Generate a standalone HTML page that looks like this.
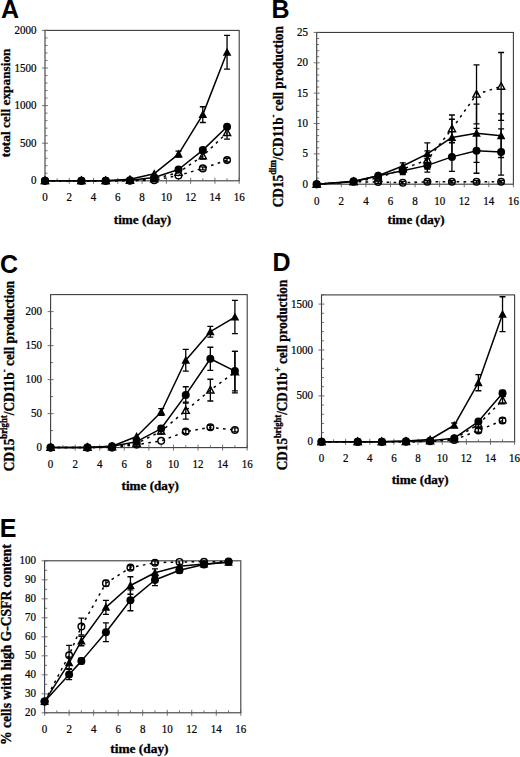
<!DOCTYPE html>
<html><head><meta charset="utf-8"><title>Figure</title>
<style>
html,body{margin:0;padding:0;background:#fff;}
body{width:520px;height:757px;overflow:hidden;font-family:"Liberation Serif",serif;}
svg{display:block;}
</style></head>
<body>
<svg width="520" height="757" viewBox="0 0 520 757">
<rect width="520" height="757" fill="#fff"/>
<rect x="45.00" y="30.40" width="194.20" height="150.40" fill="none" stroke="#3c3c3c" stroke-width="1.1"/>
<path d="M42.00,180.80H48.00M45.00,173.28H47.50M45.00,165.76H47.50M45.00,158.24H47.50M45.00,150.72H47.50M42.00,143.20H48.00M45.00,135.68H47.50M45.00,128.16H47.50M45.00,120.64H47.50M45.00,113.12H47.50M42.00,105.60H48.00M45.00,98.08H47.50M45.00,90.56H47.50M45.00,83.04H47.50M45.00,75.52H47.50M42.00,68.00H48.00M45.00,60.48H47.50M45.00,52.96H47.50M45.00,45.44H47.50M45.00,37.92H47.50M42.00,30.40H48.00M45.00,177.80V183.80M57.14,178.30V180.80M69.28,177.80V183.80M81.41,178.30V180.80M93.55,177.80V183.80M105.69,178.30V180.80M117.82,177.80V183.80M129.96,178.30V180.80M142.10,177.80V183.80M154.24,178.30V180.80M166.38,177.80V183.80M178.51,178.30V180.80M190.65,177.80V183.80M202.79,178.30V180.80M214.92,177.80V183.80M227.06,178.30V180.80M239.20,177.80V183.80" stroke="#5a5a5a" stroke-width="0.85" fill="none"/>
<text transform="translate(36.40,184.40) scale(1,1.12)" text-anchor="end" font-family="'Liberation Serif', serif" font-size="11" stroke="#000" stroke-width="0.2">0</text>
<text transform="translate(36.40,146.80) scale(1,1.12)" text-anchor="end" font-family="'Liberation Serif', serif" font-size="11" stroke="#000" stroke-width="0.2">500</text>
<text transform="translate(36.40,109.20) scale(1,1.12)" text-anchor="end" font-family="'Liberation Serif', serif" font-size="11" stroke="#000" stroke-width="0.2">1000</text>
<text transform="translate(36.40,71.60) scale(1,1.12)" text-anchor="end" font-family="'Liberation Serif', serif" font-size="11" stroke="#000" stroke-width="0.2">1500</text>
<text transform="translate(36.40,34.00) scale(1,1.12)" text-anchor="end" font-family="'Liberation Serif', serif" font-size="11" stroke="#000" stroke-width="0.2">2000</text>
<text transform="translate(45.00,201.10) scale(1,1.12)" text-anchor="middle" font-family="'Liberation Serif', serif" font-size="11" stroke="#000" stroke-width="0.2">0</text>
<text transform="translate(69.28,201.10) scale(1,1.12)" text-anchor="middle" font-family="'Liberation Serif', serif" font-size="11" stroke="#000" stroke-width="0.2">2</text>
<text transform="translate(93.55,201.10) scale(1,1.12)" text-anchor="middle" font-family="'Liberation Serif', serif" font-size="11" stroke="#000" stroke-width="0.2">4</text>
<text transform="translate(117.82,201.10) scale(1,1.12)" text-anchor="middle" font-family="'Liberation Serif', serif" font-size="11" stroke="#000" stroke-width="0.2">6</text>
<text transform="translate(142.10,201.10) scale(1,1.12)" text-anchor="middle" font-family="'Liberation Serif', serif" font-size="11" stroke="#000" stroke-width="0.2">8</text>
<text transform="translate(166.38,201.10) scale(1,1.12)" text-anchor="middle" font-family="'Liberation Serif', serif" font-size="11" stroke="#000" stroke-width="0.2">10</text>
<text transform="translate(190.65,201.10) scale(1,1.12)" text-anchor="middle" font-family="'Liberation Serif', serif" font-size="11" stroke="#000" stroke-width="0.2">12</text>
<text transform="translate(214.92,201.10) scale(1,1.12)" text-anchor="middle" font-family="'Liberation Serif', serif" font-size="11" stroke="#000" stroke-width="0.2">14</text>
<text transform="translate(239.20,201.10) scale(1,1.12)" text-anchor="middle" font-family="'Liberation Serif', serif" font-size="11" stroke="#000" stroke-width="0.2">16</text>
<text x="0.9" y="18.3" font-family="'Liberation Sans', sans-serif" font-weight="bold" font-size="25">A</text>
<text x="142.50" y="224.00" text-anchor="middle" font-family="'Liberation Serif', serif" font-weight="bold" font-size="13.2" stroke="#000" stroke-width="0.3" textLength="57.4" lengthAdjust="spacingAndGlyphs">time (day)</text>
<text transform="translate(9.50,157.30) rotate(-90) scale(1,1.0)" x="0" y="0" font-family="'Liberation Serif', serif" font-weight="bold" font-size="13.2" stroke="#000" stroke-width="0.3" textLength="108.8" lengthAdjust="spacingAndGlyphs">total cell expansion</text>
<path d="M45.00,180.80L81.41,180.80L105.69,180.80L129.96,180.80L154.24,180.20L178.51,175.54L202.79,168.39L227.06,160.12" fill="none" stroke="#000" stroke-width="1.5" stroke-dasharray="2.6,4.4"/>
<path d="M45.00,180.80L81.41,180.80L105.69,180.80L129.96,180.42L154.24,178.92L178.51,172.53L202.79,155.98L227.06,132.67" fill="none" stroke="#000" stroke-width="1.5" stroke-dasharray="2.6,4.4"/>
<path d="M45.00,180.80L81.41,180.80L105.69,180.80L129.96,180.20L154.24,177.42L178.51,169.52L202.79,150.12L227.06,126.81" fill="none" stroke="#000" stroke-width="1.5" stroke-linejoin="round"/>
<path d="M45.00,180.80L81.41,180.80L105.69,180.80L129.96,179.30L154.24,173.66L178.51,154.10L202.79,114.62L227.06,52.21" fill="none" stroke="#000" stroke-width="1.5" stroke-linejoin="round"/>
<path d="M202.79,166.89V169.90M199.79,166.89H205.79M199.79,169.90H205.79M227.06,158.24V162.00M224.06,158.24H230.06M224.06,162.00H230.06" fill="none" stroke="#000" stroke-width="1.3"/>
<path d="M202.79,152.98V158.99M199.79,152.98H205.79M199.79,158.99H205.79M227.06,126.28V139.06M224.06,126.28H230.06M224.06,139.06H230.06" fill="none" stroke="#000" stroke-width="1.3"/>
<path d="M202.79,147.86V152.37M199.79,147.86H205.79M199.79,152.37H205.79M227.06,124.55V129.06M224.06,124.55H230.06M224.06,129.06H230.06" fill="none" stroke="#000" stroke-width="1.3"/>
<path d="M178.51,151.10V157.11M175.51,151.10H181.51M175.51,157.11H181.51M202.79,106.73V122.52M199.79,106.73H205.79M199.79,122.52H205.79M227.06,35.29V69.13M224.06,35.29H230.06M224.06,69.13H230.06" fill="none" stroke="#000" stroke-width="1.3"/>
<circle cx="45.00" cy="180.80" r="3.3" fill="none" stroke="#000" stroke-width="1.45"/>
<circle cx="81.41" cy="180.80" r="3.3" fill="none" stroke="#000" stroke-width="1.45"/>
<circle cx="105.69" cy="180.80" r="3.3" fill="none" stroke="#000" stroke-width="1.45"/>
<circle cx="129.96" cy="180.80" r="3.3" fill="none" stroke="#000" stroke-width="1.45"/>
<circle cx="154.24" cy="180.20" r="3.3" fill="none" stroke="#000" stroke-width="1.45"/>
<circle cx="178.51" cy="175.54" r="3.3" fill="none" stroke="#000" stroke-width="1.45"/>
<circle cx="202.79" cy="168.39" r="3.3" fill="none" stroke="#000" stroke-width="1.45"/>
<circle cx="227.06" cy="160.12" r="3.3" fill="none" stroke="#000" stroke-width="1.45"/>
<path d="M45.00,177.00L48.60,183.60L41.40,183.60Z" fill="none" stroke="#000" stroke-width="1.4" stroke-linejoin="miter"/>
<path d="M81.41,177.00L85.01,183.60L77.81,183.60Z" fill="none" stroke="#000" stroke-width="1.4" stroke-linejoin="miter"/>
<path d="M105.69,177.00L109.29,183.60L102.09,183.60Z" fill="none" stroke="#000" stroke-width="1.4" stroke-linejoin="miter"/>
<path d="M129.96,176.62L133.56,183.22L126.36,183.22Z" fill="none" stroke="#000" stroke-width="1.4" stroke-linejoin="miter"/>
<path d="M154.24,175.12L157.84,181.72L150.64,181.72Z" fill="none" stroke="#000" stroke-width="1.4" stroke-linejoin="miter"/>
<path d="M178.51,168.73L182.11,175.33L174.91,175.33Z" fill="none" stroke="#000" stroke-width="1.4" stroke-linejoin="miter"/>
<path d="M202.79,152.18L206.39,158.78L199.19,158.78Z" fill="none" stroke="#000" stroke-width="1.4" stroke-linejoin="miter"/>
<path d="M227.06,128.87L230.66,135.47L223.46,135.47Z" fill="none" stroke="#000" stroke-width="1.4" stroke-linejoin="miter"/>
<circle cx="45.00" cy="180.80" r="4.0" fill="#000"/>
<circle cx="81.41" cy="180.80" r="4.0" fill="#000"/>
<circle cx="105.69" cy="180.80" r="4.0" fill="#000"/>
<circle cx="129.96" cy="180.20" r="4.0" fill="#000"/>
<circle cx="154.24" cy="177.42" r="4.0" fill="#000"/>
<circle cx="178.51" cy="169.52" r="4.0" fill="#000"/>
<circle cx="202.79" cy="150.12" r="4.0" fill="#000"/>
<circle cx="227.06" cy="126.81" r="4.0" fill="#000"/>
<path d="M45.00,176.30L49.30,184.30L40.70,184.30Z" fill="#000"/>
<path d="M81.41,176.30L85.71,184.30L77.11,184.30Z" fill="#000"/>
<path d="M105.69,176.30L109.99,184.30L101.39,184.30Z" fill="#000"/>
<path d="M129.96,174.80L134.26,182.80L125.66,182.80Z" fill="#000"/>
<path d="M154.24,169.16L158.54,177.16L149.94,177.16Z" fill="#000"/>
<path d="M178.51,149.60L182.81,157.60L174.21,157.60Z" fill="#000"/>
<path d="M202.79,110.12L207.09,118.12L198.49,118.12Z" fill="#000"/>
<path d="M227.06,47.71L231.36,55.71L222.76,55.71Z" fill="#000"/>
<rect x="316.70" y="32.45" width="196.70" height="151.75" fill="none" stroke="#3c3c3c" stroke-width="1.1"/>
<path d="M313.70,184.20H319.70M316.70,178.13H319.20M316.70,172.06H319.20M316.70,165.99H319.20M316.70,159.92H319.20M313.70,153.85H319.70M316.70,147.78H319.20M316.70,141.71H319.20M316.70,135.64H319.20M316.70,129.57H319.20M313.70,123.50H319.70M316.70,117.43H319.20M316.70,111.36H319.20M316.70,105.29H319.20M316.70,99.22H319.20M313.70,93.15H319.70M316.70,87.08H319.20M316.70,81.01H319.20M316.70,74.94H319.20M316.70,68.87H319.20M313.70,62.80H319.70M316.70,56.73H319.20M316.70,50.66H319.20M316.70,44.59H319.20M316.70,38.52H319.20M313.70,32.45H319.70M316.70,181.20V187.20M328.99,181.70V184.20M341.29,181.20V187.20M353.58,181.70V184.20M365.88,181.20V187.20M378.17,181.70V184.20M390.46,181.20V187.20M402.76,181.70V184.20M415.05,181.20V187.20M427.34,181.70V184.20M439.64,181.20V187.20M451.93,181.70V184.20M464.22,181.20V187.20M476.52,181.70V184.20M488.81,181.20V187.20M501.11,181.70V184.20M513.40,181.20V187.20" stroke="#5a5a5a" stroke-width="0.85" fill="none"/>
<text transform="translate(308.10,187.80) scale(1,1.12)" text-anchor="end" font-family="'Liberation Serif', serif" font-size="11" stroke="#000" stroke-width="0.2">0</text>
<text transform="translate(308.10,157.45) scale(1,1.12)" text-anchor="end" font-family="'Liberation Serif', serif" font-size="11" stroke="#000" stroke-width="0.2">5</text>
<text transform="translate(308.10,127.10) scale(1,1.12)" text-anchor="end" font-family="'Liberation Serif', serif" font-size="11" stroke="#000" stroke-width="0.2">10</text>
<text transform="translate(308.10,96.75) scale(1,1.12)" text-anchor="end" font-family="'Liberation Serif', serif" font-size="11" stroke="#000" stroke-width="0.2">15</text>
<text transform="translate(308.10,66.40) scale(1,1.12)" text-anchor="end" font-family="'Liberation Serif', serif" font-size="11" stroke="#000" stroke-width="0.2">20</text>
<text transform="translate(308.10,36.05) scale(1,1.12)" text-anchor="end" font-family="'Liberation Serif', serif" font-size="11" stroke="#000" stroke-width="0.2">25</text>
<text transform="translate(316.70,204.50) scale(1,1.12)" text-anchor="middle" font-family="'Liberation Serif', serif" font-size="11" stroke="#000" stroke-width="0.2">0</text>
<text transform="translate(341.29,204.50) scale(1,1.12)" text-anchor="middle" font-family="'Liberation Serif', serif" font-size="11" stroke="#000" stroke-width="0.2">2</text>
<text transform="translate(365.88,204.50) scale(1,1.12)" text-anchor="middle" font-family="'Liberation Serif', serif" font-size="11" stroke="#000" stroke-width="0.2">4</text>
<text transform="translate(390.46,204.50) scale(1,1.12)" text-anchor="middle" font-family="'Liberation Serif', serif" font-size="11" stroke="#000" stroke-width="0.2">6</text>
<text transform="translate(415.05,204.50) scale(1,1.12)" text-anchor="middle" font-family="'Liberation Serif', serif" font-size="11" stroke="#000" stroke-width="0.2">8</text>
<text transform="translate(439.64,204.50) scale(1,1.12)" text-anchor="middle" font-family="'Liberation Serif', serif" font-size="11" stroke="#000" stroke-width="0.2">10</text>
<text transform="translate(464.22,204.50) scale(1,1.12)" text-anchor="middle" font-family="'Liberation Serif', serif" font-size="11" stroke="#000" stroke-width="0.2">12</text>
<text transform="translate(488.81,204.50) scale(1,1.12)" text-anchor="middle" font-family="'Liberation Serif', serif" font-size="11" stroke="#000" stroke-width="0.2">14</text>
<text transform="translate(513.40,204.50) scale(1,1.12)" text-anchor="middle" font-family="'Liberation Serif', serif" font-size="11" stroke="#000" stroke-width="0.2">16</text>
<text x="271.5" y="18.3" font-family="'Liberation Sans', sans-serif" font-weight="bold" font-size="25">B</text>
<text x="416.10" y="224.00" text-anchor="middle" font-family="'Liberation Serif', serif" font-weight="bold" font-size="13.2" stroke="#000" stroke-width="0.3" textLength="57.0" lengthAdjust="spacingAndGlyphs">time (day)</text>
<text transform="translate(282.50,207.30) rotate(-90) scale(1,1.16)" x="0" y="0" font-family="'Liberation Serif', serif" font-weight="bold" font-size="13.2" stroke="#000" stroke-width="0.3" textLength="181.2" lengthAdjust="spacingAndGlyphs">CD15<tspan font-size="8.7" dy="-5.5">dim</tspan><tspan dy="5.5">/CD11b</tspan><tspan font-size="8.7" dy="-5.5">-</tspan><tspan dy="5.5"> cell production</tspan></text>
<path d="M316.70,184.20L353.58,181.77L378.17,182.08L402.76,182.68L427.34,181.77L451.93,181.77L476.52,181.77L501.11,181.77" fill="none" stroke="#000" stroke-width="1.5" stroke-dasharray="2.6,4.4"/>
<path d="M316.70,184.20L353.58,181.77L378.17,178.13L402.76,169.02L427.34,159.92L451.93,128.96L476.52,94.36L501.11,86.47" fill="none" stroke="#000" stroke-width="1.5" stroke-dasharray="2.6,4.4"/>
<path d="M316.70,184.20L353.58,181.16L378.17,175.70L402.76,170.85L427.34,165.38L451.93,156.88L476.52,150.81L501.11,152.03" fill="none" stroke="#000" stroke-width="1.5" stroke-linejoin="round"/>
<path d="M316.70,184.20L353.58,181.77L378.17,175.70L402.76,165.99L427.34,153.85L451.93,137.46L476.52,133.21L501.11,135.64" fill="none" stroke="#000" stroke-width="1.5" stroke-linejoin="round"/>
<path d="M353.58,180.56V182.99M350.58,180.56H356.58M350.58,182.99H356.58M378.17,180.86V183.29M375.17,180.86H381.17M375.17,183.29H381.17M402.76,181.47V183.90M399.76,181.47H405.76M399.76,183.90H405.76M427.34,180.56V182.99M424.34,180.56H430.34M424.34,182.99H430.34M451.93,180.56V182.99M448.93,180.56H454.93M448.93,182.99H454.93M476.52,180.56V182.99M473.52,180.56H479.52M473.52,182.99H479.52M501.11,180.56V182.99M498.11,180.56H504.11M498.11,182.99H504.11" fill="none" stroke="#000" stroke-width="1.3"/>
<path d="M427.34,150.81V169.02M424.34,150.81H430.34M424.34,169.02H430.34M451.93,115.00V142.92M448.93,115.00H454.93M448.93,142.92H454.93M476.52,64.92V123.80M473.52,64.92H479.52M473.52,123.80H479.52M501.11,52.48V120.46M498.11,52.48H504.11M498.11,120.46H504.11" fill="none" stroke="#000" stroke-width="1.3"/>
<path d="M402.76,167.20V174.49M399.76,167.20H405.76M399.76,174.49H405.76M427.34,158.71V172.06M424.34,158.71H430.34M424.34,172.06H430.34M451.93,142.32V171.45M448.93,142.32H454.93M448.93,171.45H454.93M476.52,128.36V173.27M473.52,128.36H479.52M473.52,173.27H479.52M501.11,128.96V175.09M498.11,128.96H504.11M498.11,175.09H504.11" fill="none" stroke="#000" stroke-width="1.3"/>
<path d="M402.76,162.95V169.02M399.76,162.95H405.76M399.76,169.02H405.76M427.34,142.92V164.78M424.34,142.92H430.34M424.34,164.78H430.34M451.93,119.25V155.67M448.93,119.25H454.93M448.93,155.67H454.93M476.52,104.08V162.35M473.52,104.08H479.52M473.52,162.35H479.52M501.11,113.79V157.49M498.11,113.79H504.11M498.11,157.49H504.11" fill="none" stroke="#000" stroke-width="1.3"/>
<circle cx="316.70" cy="184.20" r="3.3" fill="none" stroke="#000" stroke-width="1.45"/>
<circle cx="353.58" cy="181.77" r="3.3" fill="none" stroke="#000" stroke-width="1.45"/>
<circle cx="378.17" cy="182.08" r="3.3" fill="none" stroke="#000" stroke-width="1.45"/>
<circle cx="402.76" cy="182.68" r="3.3" fill="none" stroke="#000" stroke-width="1.45"/>
<circle cx="427.34" cy="181.77" r="3.3" fill="none" stroke="#000" stroke-width="1.45"/>
<circle cx="451.93" cy="181.77" r="3.3" fill="none" stroke="#000" stroke-width="1.45"/>
<circle cx="476.52" cy="181.77" r="3.3" fill="none" stroke="#000" stroke-width="1.45"/>
<circle cx="501.11" cy="181.77" r="3.3" fill="none" stroke="#000" stroke-width="1.45"/>
<path d="M316.70,180.40L320.30,187.00L313.10,187.00Z" fill="none" stroke="#000" stroke-width="1.4" stroke-linejoin="miter"/>
<path d="M353.58,177.97L357.18,184.57L349.98,184.57Z" fill="none" stroke="#000" stroke-width="1.4" stroke-linejoin="miter"/>
<path d="M378.17,174.33L381.77,180.93L374.57,180.93Z" fill="none" stroke="#000" stroke-width="1.4" stroke-linejoin="miter"/>
<path d="M402.76,165.22L406.36,171.82L399.16,171.82Z" fill="none" stroke="#000" stroke-width="1.4" stroke-linejoin="miter"/>
<path d="M427.34,156.12L430.94,162.72L423.74,162.72Z" fill="none" stroke="#000" stroke-width="1.4" stroke-linejoin="miter"/>
<path d="M451.93,125.16L455.53,131.76L448.33,131.76Z" fill="none" stroke="#000" stroke-width="1.4" stroke-linejoin="miter"/>
<path d="M476.52,90.56L480.12,97.16L472.92,97.16Z" fill="none" stroke="#000" stroke-width="1.4" stroke-linejoin="miter"/>
<path d="M501.11,82.67L504.71,89.27L497.51,89.27Z" fill="none" stroke="#000" stroke-width="1.4" stroke-linejoin="miter"/>
<circle cx="316.70" cy="184.20" r="4.0" fill="#000"/>
<circle cx="353.58" cy="181.16" r="4.0" fill="#000"/>
<circle cx="378.17" cy="175.70" r="4.0" fill="#000"/>
<circle cx="402.76" cy="170.85" r="4.0" fill="#000"/>
<circle cx="427.34" cy="165.38" r="4.0" fill="#000"/>
<circle cx="451.93" cy="156.88" r="4.0" fill="#000"/>
<circle cx="476.52" cy="150.81" r="4.0" fill="#000"/>
<circle cx="501.11" cy="152.03" r="4.0" fill="#000"/>
<path d="M316.70,179.70L321.00,187.70L312.40,187.70Z" fill="#000"/>
<path d="M353.58,177.27L357.88,185.27L349.28,185.27Z" fill="#000"/>
<path d="M378.17,171.20L382.47,179.20L373.87,179.20Z" fill="#000"/>
<path d="M402.76,161.49L407.06,169.49L398.46,169.49Z" fill="#000"/>
<path d="M427.34,149.35L431.64,157.35L423.04,157.35Z" fill="#000"/>
<path d="M451.93,132.96L456.23,140.96L447.63,140.96Z" fill="#000"/>
<path d="M476.52,128.71L480.82,136.71L472.22,136.71Z" fill="#000"/>
<path d="M501.11,131.14L505.41,139.14L496.81,139.14Z" fill="#000"/>
<rect x="50.60" y="294.60" width="196.60" height="153.00" fill="none" stroke="#3c3c3c" stroke-width="1.1"/>
<path d="M47.60,447.60H53.60M50.60,430.60H53.10M47.60,413.60H53.60M50.60,396.60H53.10M47.60,379.60H53.60M50.60,362.60H53.10M47.60,345.60H53.60M50.60,328.60H53.10M47.60,311.60H53.60M50.60,294.60H53.10M50.60,444.60V450.60M62.89,445.10V447.60M75.17,444.60V450.60M87.46,445.10V447.60M99.75,444.60V450.60M112.04,445.10V447.60M124.32,444.60V450.60M136.61,445.10V447.60M148.90,444.60V450.60M161.19,445.10V447.60M173.47,444.60V450.60M185.76,445.10V447.60M198.05,444.60V450.60M210.34,445.10V447.60M222.62,444.60V450.60M234.91,445.10V447.60M247.20,444.60V450.60" stroke="#5a5a5a" stroke-width="0.85" fill="none"/>
<text transform="translate(42.00,451.20) scale(1,1.12)" text-anchor="end" font-family="'Liberation Serif', serif" font-size="11" stroke="#000" stroke-width="0.2">0</text>
<text transform="translate(42.00,417.20) scale(1,1.12)" text-anchor="end" font-family="'Liberation Serif', serif" font-size="11" stroke="#000" stroke-width="0.2">50</text>
<text transform="translate(42.00,383.20) scale(1,1.12)" text-anchor="end" font-family="'Liberation Serif', serif" font-size="11" stroke="#000" stroke-width="0.2">100</text>
<text transform="translate(42.00,349.20) scale(1,1.12)" text-anchor="end" font-family="'Liberation Serif', serif" font-size="11" stroke="#000" stroke-width="0.2">150</text>
<text transform="translate(42.00,315.20) scale(1,1.12)" text-anchor="end" font-family="'Liberation Serif', serif" font-size="11" stroke="#000" stroke-width="0.2">200</text>
<text transform="translate(50.60,467.90) scale(1,1.12)" text-anchor="middle" font-family="'Liberation Serif', serif" font-size="11" stroke="#000" stroke-width="0.2">0</text>
<text transform="translate(75.17,467.90) scale(1,1.12)" text-anchor="middle" font-family="'Liberation Serif', serif" font-size="11" stroke="#000" stroke-width="0.2">2</text>
<text transform="translate(99.75,467.90) scale(1,1.12)" text-anchor="middle" font-family="'Liberation Serif', serif" font-size="11" stroke="#000" stroke-width="0.2">4</text>
<text transform="translate(124.32,467.90) scale(1,1.12)" text-anchor="middle" font-family="'Liberation Serif', serif" font-size="11" stroke="#000" stroke-width="0.2">6</text>
<text transform="translate(148.90,467.90) scale(1,1.12)" text-anchor="middle" font-family="'Liberation Serif', serif" font-size="11" stroke="#000" stroke-width="0.2">8</text>
<text transform="translate(173.47,467.90) scale(1,1.12)" text-anchor="middle" font-family="'Liberation Serif', serif" font-size="11" stroke="#000" stroke-width="0.2">10</text>
<text transform="translate(198.05,467.90) scale(1,1.12)" text-anchor="middle" font-family="'Liberation Serif', serif" font-size="11" stroke="#000" stroke-width="0.2">12</text>
<text transform="translate(222.62,467.90) scale(1,1.12)" text-anchor="middle" font-family="'Liberation Serif', serif" font-size="11" stroke="#000" stroke-width="0.2">14</text>
<text transform="translate(247.20,467.90) scale(1,1.12)" text-anchor="middle" font-family="'Liberation Serif', serif" font-size="11" stroke="#000" stroke-width="0.2">16</text>
<text x="0.0" y="272.5" font-family="'Liberation Sans', sans-serif" font-weight="bold" font-size="25">C</text>
<text x="150.20" y="489.60" text-anchor="middle" font-family="'Liberation Serif', serif" font-weight="bold" font-size="13.2" stroke="#000" stroke-width="0.3" textLength="57.3" lengthAdjust="spacingAndGlyphs">time (day)</text>
<text transform="translate(13.70,471.30) rotate(-90) scale(1,1.16)" x="0" y="0" font-family="'Liberation Serif', serif" font-weight="bold" font-size="13.2" stroke="#000" stroke-width="0.3" textLength="190.6" lengthAdjust="spacingAndGlyphs">CD15<tspan font-size="8.7" dy="-5.5">bright</tspan><tspan dy="5.5">/CD11b</tspan><tspan font-size="8.7" dy="-5.5">-</tspan><tspan dy="5.5"> cell production</tspan></text>
<path d="M50.60,447.60L87.46,447.60L112.04,447.60L136.61,444.61L161.19,440.87L185.76,431.62L210.34,427.27L234.91,429.92" fill="none" stroke="#000" stroke-width="1.5" stroke-dasharray="2.6,4.4"/>
<path d="M50.60,447.60L87.46,447.60L112.04,446.92L136.61,443.52L161.19,431.28L185.76,410.61L210.34,390.14L234.91,372.12" fill="none" stroke="#000" stroke-width="1.5" stroke-dasharray="2.6,4.4"/>
<path d="M50.60,447.60L87.46,447.60L112.04,446.24L136.61,441.68L161.19,428.56L185.76,394.90L210.34,358.79L234.91,371.10" fill="none" stroke="#000" stroke-width="1.5" stroke-linejoin="round"/>
<path d="M50.60,447.60L87.46,447.60L112.04,446.24L136.61,436.52L161.19,411.97L185.76,360.29L210.34,331.73L234.91,317.04" fill="none" stroke="#000" stroke-width="1.5" stroke-linejoin="round"/>
<path d="M185.76,429.58V433.66M182.76,429.58H188.76M182.76,433.66H188.76M210.34,425.23V429.31M207.34,425.23H213.34M207.34,429.31H213.34M234.91,427.88V431.96M231.91,427.88H237.91M231.91,431.96H237.91" fill="none" stroke="#000" stroke-width="1.3"/>
<path d="M161.19,428.56V434.00M158.19,428.56H164.19M158.19,434.00H164.19M185.76,402.04V419.18M182.76,402.04H188.76M182.76,419.18H188.76M210.34,379.26V401.02M207.34,379.26H213.34M207.34,401.02H213.34M234.91,351.38V392.86M231.91,351.38H237.91M231.91,392.86H237.91" fill="none" stroke="#000" stroke-width="1.3"/>
<path d="M161.19,425.84V431.28M158.19,425.84H164.19M158.19,431.28H164.19M185.76,386.74V403.06M182.76,386.74H188.76M182.76,403.06H188.76M210.34,347.23V370.35M207.34,347.23H213.34M207.34,370.35H213.34M234.91,351.38V390.82M231.91,351.38H237.91M231.91,390.82H237.91" fill="none" stroke="#000" stroke-width="1.3"/>
<path d="M161.19,408.57V415.37M158.19,408.57H164.19M158.19,415.37H164.19M185.76,349.41V371.17M182.76,349.41H188.76M182.76,371.17H188.76M210.34,326.29V337.17M207.34,326.29H213.34M207.34,337.17H213.34M234.91,300.38V333.70M231.91,300.38H237.91M231.91,333.70H237.91" fill="none" stroke="#000" stroke-width="1.3"/>
<circle cx="50.60" cy="447.60" r="3.3" fill="none" stroke="#000" stroke-width="1.45"/>
<circle cx="87.46" cy="447.60" r="3.3" fill="none" stroke="#000" stroke-width="1.45"/>
<circle cx="112.04" cy="447.60" r="3.3" fill="none" stroke="#000" stroke-width="1.45"/>
<circle cx="136.61" cy="444.61" r="3.3" fill="none" stroke="#000" stroke-width="1.45"/>
<circle cx="161.19" cy="440.87" r="3.3" fill="none" stroke="#000" stroke-width="1.45"/>
<circle cx="185.76" cy="431.62" r="3.3" fill="none" stroke="#000" stroke-width="1.45"/>
<circle cx="210.34" cy="427.27" r="3.3" fill="none" stroke="#000" stroke-width="1.45"/>
<circle cx="234.91" cy="429.92" r="3.3" fill="none" stroke="#000" stroke-width="1.45"/>
<path d="M50.60,443.80L54.20,450.40L47.00,450.40Z" fill="none" stroke="#000" stroke-width="1.4" stroke-linejoin="miter"/>
<path d="M87.46,443.80L91.06,450.40L83.86,450.40Z" fill="none" stroke="#000" stroke-width="1.4" stroke-linejoin="miter"/>
<path d="M112.04,443.12L115.64,449.72L108.44,449.72Z" fill="none" stroke="#000" stroke-width="1.4" stroke-linejoin="miter"/>
<path d="M136.61,439.72L140.21,446.32L133.01,446.32Z" fill="none" stroke="#000" stroke-width="1.4" stroke-linejoin="miter"/>
<path d="M161.19,427.48L164.79,434.08L157.59,434.08Z" fill="none" stroke="#000" stroke-width="1.4" stroke-linejoin="miter"/>
<path d="M185.76,406.81L189.36,413.41L182.16,413.41Z" fill="none" stroke="#000" stroke-width="1.4" stroke-linejoin="miter"/>
<path d="M210.34,386.34L213.94,392.94L206.74,392.94Z" fill="none" stroke="#000" stroke-width="1.4" stroke-linejoin="miter"/>
<path d="M234.91,368.32L238.51,374.92L231.31,374.92Z" fill="none" stroke="#000" stroke-width="1.4" stroke-linejoin="miter"/>
<circle cx="50.60" cy="447.60" r="4.0" fill="#000"/>
<circle cx="87.46" cy="447.60" r="4.0" fill="#000"/>
<circle cx="112.04" cy="446.24" r="4.0" fill="#000"/>
<circle cx="136.61" cy="441.68" r="4.0" fill="#000"/>
<circle cx="161.19" cy="428.56" r="4.0" fill="#000"/>
<circle cx="185.76" cy="394.90" r="4.0" fill="#000"/>
<circle cx="210.34" cy="358.79" r="4.0" fill="#000"/>
<circle cx="234.91" cy="371.10" r="4.0" fill="#000"/>
<path d="M50.60,443.10L54.90,451.10L46.30,451.10Z" fill="#000"/>
<path d="M87.46,443.10L91.76,451.10L83.16,451.10Z" fill="#000"/>
<path d="M112.04,441.74L116.34,449.74L107.74,449.74Z" fill="#000"/>
<path d="M136.61,432.02L140.91,440.02L132.31,440.02Z" fill="#000"/>
<path d="M161.19,407.47L165.49,415.47L156.89,415.47Z" fill="#000"/>
<path d="M185.76,355.79L190.06,363.79L181.46,363.79Z" fill="#000"/>
<path d="M210.34,327.23L214.64,335.23L206.04,335.23Z" fill="#000"/>
<path d="M234.91,312.54L239.21,320.54L230.61,320.54Z" fill="#000"/>
<rect x="321.50" y="294.90" width="193.10" height="146.90" fill="none" stroke="#3c3c3c" stroke-width="1.1"/>
<path d="M318.50,441.80H324.50M321.50,432.62H324.00M321.50,423.44H324.00M321.50,414.26H324.00M321.50,405.07H324.00M318.50,395.89H324.50M321.50,386.71H324.00M321.50,377.53H324.00M321.50,368.35H324.00M321.50,359.17H324.00M318.50,349.99H324.50M321.50,340.81H324.00M321.50,331.62H324.00M321.50,322.44H324.00M321.50,313.26H324.00M318.50,304.08H324.50M321.50,294.90H324.00M321.50,438.80V444.80M333.57,439.30V441.80M345.64,438.80V444.80M357.71,439.30V441.80M369.77,438.80V444.80M381.84,439.30V441.80M393.91,438.80V444.80M405.98,439.30V441.80M418.05,438.80V444.80M430.12,439.30V441.80M442.19,438.80V444.80M454.26,439.30V441.80M466.33,438.80V444.80M478.39,439.30V441.80M490.46,438.80V444.80M502.53,439.30V441.80M514.60,438.80V444.80" stroke="#5a5a5a" stroke-width="0.85" fill="none"/>
<text transform="translate(312.90,445.40) scale(1,1.12)" text-anchor="end" font-family="'Liberation Serif', serif" font-size="11" stroke="#000" stroke-width="0.2">0</text>
<text transform="translate(312.90,399.49) scale(1,1.12)" text-anchor="end" font-family="'Liberation Serif', serif" font-size="11" stroke="#000" stroke-width="0.2">500</text>
<text transform="translate(312.90,353.59) scale(1,1.12)" text-anchor="end" font-family="'Liberation Serif', serif" font-size="11" stroke="#000" stroke-width="0.2">1000</text>
<text transform="translate(312.90,307.68) scale(1,1.12)" text-anchor="end" font-family="'Liberation Serif', serif" font-size="11" stroke="#000" stroke-width="0.2">1500</text>
<text transform="translate(321.50,462.10) scale(1,1.12)" text-anchor="middle" font-family="'Liberation Serif', serif" font-size="11" stroke="#000" stroke-width="0.2">0</text>
<text transform="translate(345.64,462.10) scale(1,1.12)" text-anchor="middle" font-family="'Liberation Serif', serif" font-size="11" stroke="#000" stroke-width="0.2">2</text>
<text transform="translate(369.77,462.10) scale(1,1.12)" text-anchor="middle" font-family="'Liberation Serif', serif" font-size="11" stroke="#000" stroke-width="0.2">4</text>
<text transform="translate(393.91,462.10) scale(1,1.12)" text-anchor="middle" font-family="'Liberation Serif', serif" font-size="11" stroke="#000" stroke-width="0.2">6</text>
<text transform="translate(418.05,462.10) scale(1,1.12)" text-anchor="middle" font-family="'Liberation Serif', serif" font-size="11" stroke="#000" stroke-width="0.2">8</text>
<text transform="translate(442.19,462.10) scale(1,1.12)" text-anchor="middle" font-family="'Liberation Serif', serif" font-size="11" stroke="#000" stroke-width="0.2">10</text>
<text transform="translate(466.33,462.10) scale(1,1.12)" text-anchor="middle" font-family="'Liberation Serif', serif" font-size="11" stroke="#000" stroke-width="0.2">12</text>
<text transform="translate(490.46,462.10) scale(1,1.12)" text-anchor="middle" font-family="'Liberation Serif', serif" font-size="11" stroke="#000" stroke-width="0.2">14</text>
<text transform="translate(514.60,462.10) scale(1,1.12)" text-anchor="middle" font-family="'Liberation Serif', serif" font-size="11" stroke="#000" stroke-width="0.2">16</text>
<text x="272.6" y="271.4" font-family="'Liberation Sans', sans-serif" font-weight="bold" font-size="25">D</text>
<text x="420.20" y="484.00" text-anchor="middle" font-family="'Liberation Serif', serif" font-weight="bold" font-size="13.2" stroke="#000" stroke-width="0.3" textLength="57.0" lengthAdjust="spacingAndGlyphs">time (day)</text>
<text transform="translate(286.90,470.20) rotate(-90) scale(1,1.16)" x="0" y="0" font-family="'Liberation Serif', serif" font-weight="bold" font-size="13.2" stroke="#000" stroke-width="0.3" textLength="190.5" lengthAdjust="spacingAndGlyphs">CD15<tspan font-size="8.7" dy="-5.5">bright</tspan><tspan dy="5.5">/CD11b</tspan><tspan font-size="8.7" dy="-5.5">+</tspan><tspan dy="5.5"> cell production</tspan></text>
<path d="M321.50,441.80L357.71,441.80L381.84,441.80L405.98,441.80L430.12,441.34L454.26,439.96L478.39,430.42L502.53,420.50" fill="none" stroke="#000" stroke-width="1.5" stroke-dasharray="2.6,4.4"/>
<path d="M321.50,441.80L357.71,441.80L381.84,441.80L405.98,441.80L430.12,441.07L454.26,439.05L478.39,424.36L502.53,400.21" fill="none" stroke="#000" stroke-width="1.5" stroke-dasharray="2.6,4.4"/>
<path d="M321.50,441.80L357.71,441.80L381.84,441.80L405.98,441.34L430.12,440.70L454.26,438.13L478.39,421.60L502.53,393.14" fill="none" stroke="#000" stroke-width="1.5" stroke-linejoin="round"/>
<path d="M321.50,441.80L357.71,441.80L381.84,441.80L405.98,441.07L430.12,439.50L454.26,425.27L478.39,382.67L502.53,314.18" fill="none" stroke="#000" stroke-width="1.5" stroke-linejoin="round"/>
<path d="M478.39,428.58V432.25M475.39,428.58H481.39M475.39,432.25H481.39M502.53,418.20V422.79M499.53,418.20H505.53M499.53,422.79H505.53" fill="none" stroke="#000" stroke-width="1.3"/>
<path d="M478.39,421.60V427.11M475.39,421.60H481.39M475.39,427.11H481.39M502.53,396.54V403.88M499.53,396.54H505.53M499.53,403.88H505.53" fill="none" stroke="#000" stroke-width="1.3"/>
<path d="M478.39,419.76V423.44M475.39,419.76H481.39M475.39,423.44H481.39M502.53,390.38V395.89M499.53,390.38H505.53M499.53,395.89H505.53" fill="none" stroke="#000" stroke-width="1.3"/>
<path d="M454.26,422.98V427.57M451.26,422.98H457.26M451.26,427.57H457.26M478.39,374.59V390.75M475.39,374.59H481.39M475.39,390.75H481.39M502.53,296.74V331.62M499.53,296.74H505.53M499.53,331.62H505.53" fill="none" stroke="#000" stroke-width="1.3"/>
<circle cx="321.50" cy="441.80" r="3.3" fill="none" stroke="#000" stroke-width="1.45"/>
<circle cx="357.71" cy="441.80" r="3.3" fill="none" stroke="#000" stroke-width="1.45"/>
<circle cx="381.84" cy="441.80" r="3.3" fill="none" stroke="#000" stroke-width="1.45"/>
<circle cx="405.98" cy="441.80" r="3.3" fill="none" stroke="#000" stroke-width="1.45"/>
<circle cx="430.12" cy="441.34" r="3.3" fill="none" stroke="#000" stroke-width="1.45"/>
<circle cx="454.26" cy="439.96" r="3.3" fill="none" stroke="#000" stroke-width="1.45"/>
<circle cx="478.39" cy="430.42" r="3.3" fill="none" stroke="#000" stroke-width="1.45"/>
<circle cx="502.53" cy="420.50" r="3.3" fill="none" stroke="#000" stroke-width="1.45"/>
<path d="M321.50,438.00L325.10,444.60L317.90,444.60Z" fill="none" stroke="#000" stroke-width="1.4" stroke-linejoin="miter"/>
<path d="M357.71,438.00L361.31,444.60L354.11,444.60Z" fill="none" stroke="#000" stroke-width="1.4" stroke-linejoin="miter"/>
<path d="M381.84,438.00L385.44,444.60L378.24,444.60Z" fill="none" stroke="#000" stroke-width="1.4" stroke-linejoin="miter"/>
<path d="M405.98,438.00L409.58,444.60L402.38,444.60Z" fill="none" stroke="#000" stroke-width="1.4" stroke-linejoin="miter"/>
<path d="M430.12,437.27L433.72,443.87L426.52,443.87Z" fill="none" stroke="#000" stroke-width="1.4" stroke-linejoin="miter"/>
<path d="M454.26,435.25L457.86,441.85L450.66,441.85Z" fill="none" stroke="#000" stroke-width="1.4" stroke-linejoin="miter"/>
<path d="M478.39,420.56L481.99,427.16L474.79,427.16Z" fill="none" stroke="#000" stroke-width="1.4" stroke-linejoin="miter"/>
<path d="M502.53,396.41L506.13,403.01L498.93,403.01Z" fill="none" stroke="#000" stroke-width="1.4" stroke-linejoin="miter"/>
<circle cx="321.50" cy="441.80" r="4.0" fill="#000"/>
<circle cx="357.71" cy="441.80" r="4.0" fill="#000"/>
<circle cx="381.84" cy="441.80" r="4.0" fill="#000"/>
<circle cx="405.98" cy="441.34" r="4.0" fill="#000"/>
<circle cx="430.12" cy="440.70" r="4.0" fill="#000"/>
<circle cx="454.26" cy="438.13" r="4.0" fill="#000"/>
<circle cx="478.39" cy="421.60" r="4.0" fill="#000"/>
<circle cx="502.53" cy="393.14" r="4.0" fill="#000"/>
<path d="M321.50,437.30L325.80,445.30L317.20,445.30Z" fill="#000"/>
<path d="M357.71,437.30L362.01,445.30L353.41,445.30Z" fill="#000"/>
<path d="M381.84,437.30L386.14,445.30L377.54,445.30Z" fill="#000"/>
<path d="M405.98,436.57L410.28,444.57L401.68,444.57Z" fill="#000"/>
<path d="M430.12,435.00L434.42,443.00L425.82,443.00Z" fill="#000"/>
<path d="M454.26,420.77L458.56,428.77L449.96,428.77Z" fill="#000"/>
<path d="M478.39,378.17L482.69,386.17L474.09,386.17Z" fill="#000"/>
<path d="M502.53,309.68L506.83,317.68L498.23,317.68Z" fill="#000"/>
<rect x="44.60" y="560.80" width="196.20" height="152.00" fill="none" stroke="#3c3c3c" stroke-width="1.1"/>
<path d="M41.60,712.80H47.60M44.60,703.30H47.10M41.60,693.80H47.60M44.60,684.30H47.10M41.60,674.80H47.60M44.60,665.30H47.10M41.60,655.80H47.60M44.60,646.30H47.10M41.60,636.80H47.60M44.60,627.30H47.10M41.60,617.80H47.60M44.60,608.30H47.10M41.60,598.80H47.60M44.60,589.30H47.10M41.60,579.80H47.60M44.60,570.30H47.10M41.60,560.80H47.60M44.60,709.80V715.80M56.86,710.30V712.80M69.12,709.80V715.80M81.39,710.30V712.80M93.65,709.80V715.80M105.91,710.30V712.80M118.18,709.80V715.80M130.44,710.30V712.80M142.70,709.80V715.80M154.96,710.30V712.80M167.23,709.80V715.80M179.49,710.30V712.80M191.75,709.80V715.80M204.01,710.30V712.80M216.28,709.80V715.80M228.54,710.30V712.80M240.80,709.80V715.80" stroke="#5a5a5a" stroke-width="0.85" fill="none"/>
<text transform="translate(36.00,716.40) scale(1,1.12)" text-anchor="end" font-family="'Liberation Serif', serif" font-size="11" stroke="#000" stroke-width="0.2">20</text>
<text transform="translate(36.00,697.40) scale(1,1.12)" text-anchor="end" font-family="'Liberation Serif', serif" font-size="11" stroke="#000" stroke-width="0.2">30</text>
<text transform="translate(36.00,678.40) scale(1,1.12)" text-anchor="end" font-family="'Liberation Serif', serif" font-size="11" stroke="#000" stroke-width="0.2">40</text>
<text transform="translate(36.00,659.40) scale(1,1.12)" text-anchor="end" font-family="'Liberation Serif', serif" font-size="11" stroke="#000" stroke-width="0.2">50</text>
<text transform="translate(36.00,640.40) scale(1,1.12)" text-anchor="end" font-family="'Liberation Serif', serif" font-size="11" stroke="#000" stroke-width="0.2">60</text>
<text transform="translate(36.00,621.40) scale(1,1.12)" text-anchor="end" font-family="'Liberation Serif', serif" font-size="11" stroke="#000" stroke-width="0.2">70</text>
<text transform="translate(36.00,602.40) scale(1,1.12)" text-anchor="end" font-family="'Liberation Serif', serif" font-size="11" stroke="#000" stroke-width="0.2">80</text>
<text transform="translate(36.00,583.40) scale(1,1.12)" text-anchor="end" font-family="'Liberation Serif', serif" font-size="11" stroke="#000" stroke-width="0.2">90</text>
<text transform="translate(36.00,564.40) scale(1,1.12)" text-anchor="end" font-family="'Liberation Serif', serif" font-size="11" stroke="#000" stroke-width="0.2">100</text>
<text transform="translate(44.60,733.10) scale(1,1.12)" text-anchor="middle" font-family="'Liberation Serif', serif" font-size="11" stroke="#000" stroke-width="0.2">0</text>
<text transform="translate(69.12,733.10) scale(1,1.12)" text-anchor="middle" font-family="'Liberation Serif', serif" font-size="11" stroke="#000" stroke-width="0.2">2</text>
<text transform="translate(93.65,733.10) scale(1,1.12)" text-anchor="middle" font-family="'Liberation Serif', serif" font-size="11" stroke="#000" stroke-width="0.2">4</text>
<text transform="translate(118.18,733.10) scale(1,1.12)" text-anchor="middle" font-family="'Liberation Serif', serif" font-size="11" stroke="#000" stroke-width="0.2">6</text>
<text transform="translate(142.70,733.10) scale(1,1.12)" text-anchor="middle" font-family="'Liberation Serif', serif" font-size="11" stroke="#000" stroke-width="0.2">8</text>
<text transform="translate(167.23,733.10) scale(1,1.12)" text-anchor="middle" font-family="'Liberation Serif', serif" font-size="11" stroke="#000" stroke-width="0.2">10</text>
<text transform="translate(191.75,733.10) scale(1,1.12)" text-anchor="middle" font-family="'Liberation Serif', serif" font-size="11" stroke="#000" stroke-width="0.2">12</text>
<text transform="translate(216.28,733.10) scale(1,1.12)" text-anchor="middle" font-family="'Liberation Serif', serif" font-size="11" stroke="#000" stroke-width="0.2">14</text>
<text transform="translate(240.80,733.10) scale(1,1.12)" text-anchor="middle" font-family="'Liberation Serif', serif" font-size="11" stroke="#000" stroke-width="0.2">16</text>
<text x="-0.2" y="537.2" font-family="'Liberation Sans', sans-serif" font-weight="bold" font-size="25">E</text>
<text x="139.40" y="752.50" text-anchor="middle" font-family="'Liberation Serif', serif" font-weight="bold" font-size="13.2" stroke="#000" stroke-width="0.3" textLength="58.3" lengthAdjust="spacingAndGlyphs">time (day)</text>
<text transform="translate(10.70,745.00) rotate(-90) scale(1,1.18)" x="0" y="0" font-family="'Liberation Serif', serif" font-weight="bold" font-size="13.2" stroke="#000" stroke-width="0.3" textLength="200.7" lengthAdjust="spacingAndGlyphs">% cells with high G-CSFR content</text>
<path d="M44.60,701.40L69.12,655.23L81.39,626.54L105.91,583.22L130.44,567.64L154.96,562.70L179.49,561.94L204.01,561.75L228.54,561.56" fill="none" stroke="#000" stroke-width="1.5" stroke-dasharray="2.6,4.4"/>
<path d="M44.60,701.40L69.12,662.83L81.39,640.98L105.91,607.35L130.44,585.50L154.96,572.77L179.49,566.31L204.01,564.03L228.54,562.32" fill="none" stroke="#000" stroke-width="1.5" stroke-linejoin="round"/>
<path d="M44.60,701.40L69.12,674.42L81.39,661.12L105.91,632.24L130.44,600.32L154.96,579.99L179.49,570.30L204.01,564.60L228.54,561.94" fill="none" stroke="#000" stroke-width="1.5" stroke-linejoin="round"/>
<path d="M69.12,645.35V665.11M66.12,645.35H72.12M66.12,665.11H72.12M81.39,618.18V634.90M78.39,618.18H84.39M78.39,634.90H84.39M105.91,580.37V586.07M102.91,580.37H108.91M102.91,586.07H108.91M130.44,565.74V569.54M127.44,565.74H133.44M127.44,569.54H133.44M154.96,560.80V564.60M151.96,560.80H157.96M151.96,564.60H157.96" fill="none" stroke="#000" stroke-width="1.3"/>
<path d="M69.12,657.13V668.53M66.12,657.13H72.12M66.12,668.53H72.12M81.39,636.23V645.73M78.39,636.23H84.39M78.39,645.73H84.39M105.91,600.32V614.38M102.91,600.32H108.91M102.91,614.38H108.91M130.44,576.76V594.24M127.44,576.76H133.44M127.44,594.24H133.44M154.96,568.97V576.57M151.96,568.97H157.96M151.96,576.57H157.96M204.01,561.18V566.88M201.01,561.18H207.01M201.01,566.88H207.01" fill="none" stroke="#000" stroke-width="1.3"/>
<path d="M69.12,669.29V679.55M66.12,669.29H72.12M66.12,679.55H72.12M81.39,658.27V663.97M78.39,658.27H84.39M78.39,663.97H84.39M105.91,622.93V641.55M102.91,622.93H108.91M102.91,641.55H108.91M130.44,589.87V610.77M127.44,589.87H133.44M127.44,610.77H133.44M154.96,574.29V585.69M151.96,574.29H157.96M151.96,585.69H157.96M179.49,567.45V573.15M176.49,567.45H182.49M176.49,573.15H182.49M204.01,561.75V567.45M201.01,561.75H207.01M201.01,567.45H207.01" fill="none" stroke="#000" stroke-width="1.3"/>
<circle cx="44.60" cy="701.40" r="3.3" fill="none" stroke="#000" stroke-width="1.45"/>
<circle cx="69.12" cy="655.23" r="3.3" fill="none" stroke="#000" stroke-width="1.45"/>
<circle cx="81.39" cy="626.54" r="3.3" fill="none" stroke="#000" stroke-width="1.45"/>
<circle cx="105.91" cy="583.22" r="3.3" fill="none" stroke="#000" stroke-width="1.45"/>
<circle cx="130.44" cy="567.64" r="3.3" fill="none" stroke="#000" stroke-width="1.45"/>
<circle cx="154.96" cy="562.70" r="3.3" fill="none" stroke="#000" stroke-width="1.45"/>
<circle cx="179.49" cy="561.94" r="3.3" fill="none" stroke="#000" stroke-width="1.45"/>
<circle cx="204.01" cy="561.75" r="3.3" fill="none" stroke="#000" stroke-width="1.45"/>
<circle cx="228.54" cy="561.56" r="3.3" fill="none" stroke="#000" stroke-width="1.45"/>
<path d="M44.60,696.90L48.90,704.90L40.30,704.90Z" fill="#000"/>
<path d="M69.12,658.33L73.42,666.33L64.83,666.33Z" fill="#000"/>
<path d="M81.39,636.48L85.69,644.48L77.09,644.48Z" fill="#000"/>
<path d="M105.91,602.85L110.21,610.85L101.61,610.85Z" fill="#000"/>
<path d="M130.44,581.00L134.74,589.00L126.14,589.00Z" fill="#000"/>
<path d="M154.96,568.27L159.26,576.27L150.66,576.27Z" fill="#000"/>
<path d="M179.49,561.81L183.79,569.81L175.19,569.81Z" fill="#000"/>
<path d="M204.01,559.53L208.31,567.53L199.71,567.53Z" fill="#000"/>
<path d="M228.54,557.82L232.84,565.82L224.24,565.82Z" fill="#000"/>
<circle cx="44.60" cy="701.40" r="4.0" fill="#000"/>
<circle cx="69.12" cy="674.42" r="4.0" fill="#000"/>
<circle cx="81.39" cy="661.12" r="4.0" fill="#000"/>
<circle cx="105.91" cy="632.24" r="4.0" fill="#000"/>
<circle cx="130.44" cy="600.32" r="4.0" fill="#000"/>
<circle cx="154.96" cy="579.99" r="4.0" fill="#000"/>
<circle cx="179.49" cy="570.30" r="4.0" fill="#000"/>
<circle cx="204.01" cy="564.60" r="4.0" fill="#000"/>
<circle cx="228.54" cy="561.94" r="4.0" fill="#000"/>
</svg>
</body></html>
